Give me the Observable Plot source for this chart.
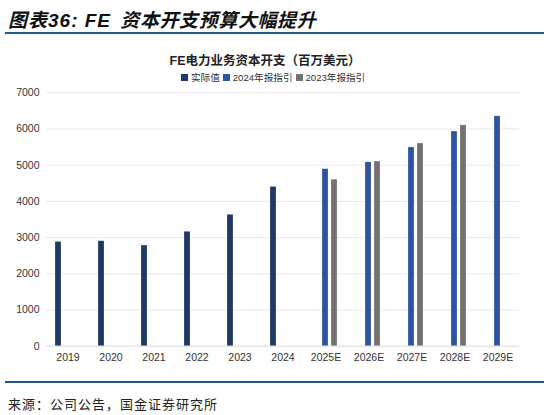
<!DOCTYPE html>
<html>
<head>
<meta charset="utf-8">
<script src="https://cdn.jsdelivr.net/npm/d3@7"></script>
<script src="https://cdn.jsdelivr.net/npm/@observablehq/plot@0.6"></script>
<style>
  body { margin: 0; width: 544px; height: 415px; background: #fff; font-family: "Liberation Sans", "Noto Sans CJK SC", sans-serif; position: relative; overflow: hidden; }
  #title { position: absolute; left: 8px; top: 5px; font-size: 19px; font-weight: bold; font-style: italic; letter-spacing: 1px; color: #111; font-family: "Liberation Sans", "Noto Sans CJK SC", sans-serif; white-space: nowrap; }
  #title .cn { letter-spacing: 0.6px; margin-left: 3px; }
  .rule { position: absolute; left: 5px; right: 0; height: 2px; background: #1d5b88; }
  #ctitle { position: absolute; left: 0; width: 530px; top: 50px; text-align: center; font-size: 12.5px; font-weight: bold; color: #222; }
  #legend { position: absolute; left: 181px; top: 70px; font-size: 9.6px; color: #333; display: flex; align-items: center; white-space: nowrap; }
  #legend span.sw { display: inline-block; width: 7px; height: 7px; margin-right: 3px; }
  #legend span.it { display: inline-flex; align-items: center; margin-right: 3px; }
  #chart { position: absolute; left: 0; top: 85px; }
  #source { position: absolute; left: 8px; top: 394px; font-size: 13px; color: #222; font-family: "Noto Sans CJK SC", sans-serif; letter-spacing: 1px; }
</style>
</head>
<body>
<div id="title">图表36: FE <span class="cn">资本开支预算大幅提升</span></div>
<div class="rule" style="top:32px"></div>
<div id="ctitle">FE电力业务资本开支（百万美元）</div>
<div id="legend"></div>
<div id="chart"></div>
<div class="rule" style="top:381px"></div>
<div id="source">来源：公司公告，国金证券研究所</div>
<script>
const years = ["2019", "2020", "2021", "2022", "2023", "2024", "2025E", "2026E", "2027E", "2028E", "2029E"];
const series = ["实际值", "2024年报指引", "2023年报指引"];
const colors = ["#203864", "#2e54a1", "#767171"];
const actual = [2880, 2900, 2780, 3160, 3630, 4400, null, null, null, null, null];
const guide2024 = [null, null, null, null, null, null, 4890, 5080, 5490, 5930, 6350];
const guide2023 = [null, null, null, null, null, null, 4600, 5100, 5600, 6100, null];
const yTicks = [0, 1000, 2000, 3000, 4000, 5000, 6000, 7000];

const rows = [];
[actual, guide2024, guide2023].forEach((vals, i) => {
  vals.forEach((v, j) => {
    if (v != null) rows.push({ year: years[j], series: series[i], value: v });
  });
});

// legend
const legend = document.getElementById("legend");
series.forEach((s, i) => {
  const it = document.createElement("span");
  it.className = "it";
  it.innerHTML = `<span class="sw" style="background:${colors[i]}"></span>${s}`;
  legend.append(it);
});

const chart = Plot.plot({
  width: 544,
  height: 285,
  marginLeft: 46,
  marginRight: 25,
  marginTop: 7.3,
  marginBottom: 24.3,
  style: { fontFamily: "Liberation Sans, Arial, sans-serif", fontSize: "10.5px", color: "#333" },
  fx: { domain: years, padding: 0, label: null, tickSize: 0, tickPadding: 7 },
  x: { domain: series, axis: null, paddingInner: 0.28, paddingOuter: 0.86 },
  y: { domain: [0, 7000], ticks: yTicks, tickSize: 0, tickPadding: 7, label: null, tickFormat: (d) => String(d) },
  color: { domain: series, range: colors },
  marks: [
    Plot.ruleY(yTicks.slice(1), { stroke: "#e8e8e8", strokeWidth: 1 }),
    Plot.ruleY([0], { stroke: "#d9d9d9", strokeWidth: 1 }),
    Plot.barY(rows, { fx: "year", x: "series", y: "value", fill: "series", stroke: "#ffffff", strokeOpacity: 0.35, strokeWidth: 0.6 })
  ]
});
document.getElementById("chart").append(chart);
</script>
</body>
</html>
